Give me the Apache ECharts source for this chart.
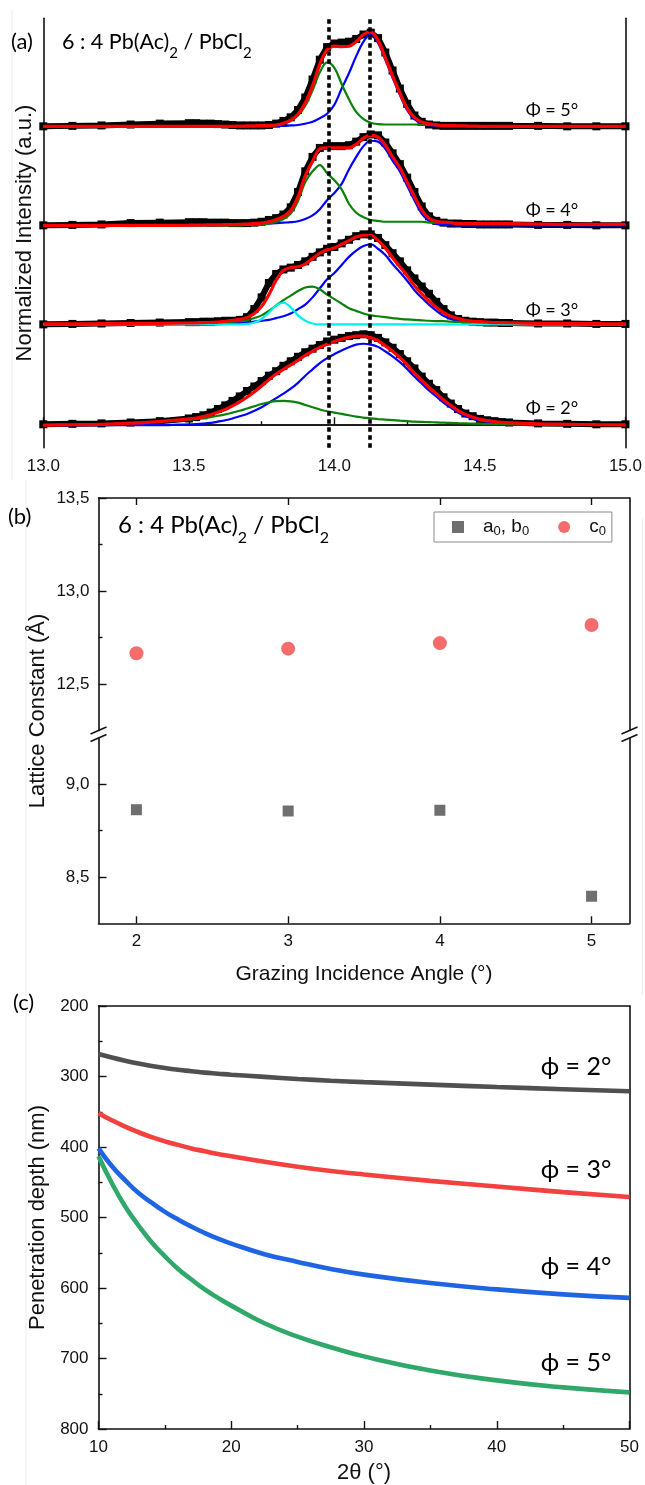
<!DOCTYPE html>
<html><head><meta charset="utf-8">
<script src="https://cdn.jsdelivr.net/npm/echarts@6/dist/echarts.min.js"></script>
<style>html,body{margin:0;padding:0;background:#fff}#c{width:645px;height:1485px}</style>
</head><body><div id="c"></div>
<script>
// ---------- Panel (a): XRD scans, 2theta grid ----------
const twoThetaA = [13.0,13.1,13.2,13.3,13.4,13.5,13.525,13.55,13.575,13.6,13.625,13.65,13.675,13.7,13.725,13.75,13.775,13.8,13.825,13.85,13.875,13.9,13.925,13.95,13.975,14.0,14.025,14.05,14.075,14.1,14.125,14.15,14.175,14.2,14.225,14.25,14.275,14.3,14.325,14.35,14.375,14.4,14.425,14.45,14.475,14.5,14.525,14.55,14.575,14.6,14.7,14.8,14.9,15.0];
const scanLabels = ['Φ = 2°','Φ = 3°','Φ = 4°','Φ = 5°'];
const scanOffsets = [0, 1.12, 2.22, 3.32];
const dottedLinesX = [13.98, 14.12];

const data2 = [0.01,0.015,0.02,0.03,0.045,0.075,0.09,0.11,0.14,0.18,0.22,0.27,0.32,0.38,0.43,0.49,0.55,0.6,0.66,0.71,0.76,0.81,0.85,0.89,0.93,0.95,0.97,0.99,1.0,1.01,1.0,0.97,0.92,0.86,0.79,0.71,0.63,0.54,0.46,0.39,0.31,0.24,0.18,0.13,0.1,0.07,0.055,0.045,0.035,0.03,0.02,0.015,0.01,0.01];
const fit2 = [0,0.005,0.01,0.022,0.04,0.07,0.08,0.095,0.115,0.145,0.175,0.215,0.26,0.31,0.37,0.435,0.505,0.568,0.62,0.67,0.72,0.775,0.82,0.865,0.9,0.93,0.955,0.975,0.99,0.99,0.97,0.938,0.882,0.821,0.75,0.67,0.58,0.5,0.42,0.351,0.28,0.22,0.162,0.12,0.09,0.065,0.05,0.04,0.032,0.027,0.015,0.01,0.006,0.003];
const green2 = [0,0.005,0.01,0.022,0.04,0.06,0.068,0.078,0.09,0.105,0.12,0.14,0.16,0.185,0.21,0.235,0.255,0.268,0.27,0.265,0.25,0.225,0.2,0.175,0.155,0.14,0.125,0.11,0.095,0.085,0.075,0.068,0.062,0.056,0.05,0.045,0.04,0.037,0.034,0.031,0.028,0.025,0.022,0.02,0.018,0.016,0.014,0.012,0.01,0.009,0.006,0.004,0.002,0];
const blue2 = [0,0,0,0,0,0.01,0.012,0.017,0.025,0.04,0.055,0.075,0.1,0.125,0.16,0.2,0.25,0.3,0.35,0.405,0.47,0.55,0.62,0.69,0.745,0.79,0.83,0.865,0.895,0.905,0.895,0.87,0.82,0.765,0.7,0.625,0.54,0.463,0.386,0.32,0.252,0.195,0.14,0.1,0.072,0.049,0.036,0.028,0.022,0.018,0.009,0.006,0.004,0.003];

const data3 = [0,0.005,0.01,0.015,0.02,0.025,0.025,0.03,0.03,0.035,0.04,0.04,0.05,0.08,0.17,0.3,0.46,0.56,0.61,0.63,0.66,0.7,0.75,0.8,0.84,0.86,0.9,0.94,0.98,1.0,1.0,0.96,0.88,0.79,0.7,0.6,0.51,0.42,0.34,0.25,0.17,0.1,0.06,0.04,0.03,0.025,0.02,0.02,0.015,0.015,0.01,0.01,0.005,0.005];
const fit3 = [0.005,0.005,0.008,0.01,0.012,0.015,0.017,0.02,0.022,0.025,0.035,0.045,0.055,0.075,0.12,0.2,0.33,0.49,0.6,0.63,0.64,0.67,0.73,0.79,0.83,0.85,0.89,0.93,0.97,0.99,0.99,0.93,0.85,0.74,0.64,0.54,0.43,0.34,0.26,0.19,0.13,0.09,0.065,0.045,0.035,0.03,0.025,0.02,0.02,0.018,0.012,0.01,0.008,0.005];
const cyan3 = [0,0,0,0,0,0,0,0,0,0,0,0,0,0.005,0.02,0.06,0.13,0.21,0.24,0.19,0.1,0.04,0.01,0,0,0,0,0,0,0,0,0,0,0,0,0,0,0,0,0,0,0,0,0,0,0,0,0,0,0,0,0,0,0];
const green3 = [0.005,0.005,0.005,0.005,0.005,0.01,0.012,0.015,0.017,0.02,0.025,0.03,0.035,0.045,0.07,0.1,0.15,0.21,0.27,0.32,0.37,0.41,0.42,0.39,0.33,0.28,0.23,0.18,0.15,0.12,0.1,0.09,0.08,0.07,0.06,0.055,0.05,0.045,0.04,0.037,0.035,0.03,0.028,0.025,0.023,0.02,0.02,0.018,0.017,0.015,0.01,0.008,0.006,0.005];
const blue3 = [0,0,0,0,0,0,0,0,0,0.005,0.01,0.015,0.02,0.025,0.03,0.04,0.05,0.07,0.09,0.12,0.17,0.22,0.3,0.4,0.5,0.57,0.66,0.75,0.82,0.87,0.89,0.84,0.77,0.67,0.58,0.485,0.38,0.295,0.22,0.153,0.095,0.06,0.037,0.02,0.012,0.01,0.005,0,0,0,0,0,0,0];

const data4 = [0,0.005,0.01,0.025,0.03,0.035,0.035,0.035,0.03,0.03,0.03,0.025,0.025,0.025,0.03,0.04,0.06,0.08,0.12,0.2,0.37,0.6,0.76,0.86,0.88,0.88,0.88,0.89,0.93,0.98,1.01,1.0,0.92,0.8,0.68,0.53,0.37,0.21,0.1,0.05,0.03,0.02,0.02,0.015,0.015,0.01,0.01,0.01,0.01,0.01,0.005,0.005,0,0];
const fit4 = [0,0,0,0,0,0.002,0.003,0.004,0.005,0.006,0.007,0.008,0.01,0.015,0.02,0.025,0.04,0.065,0.1,0.165,0.315,0.55,0.71,0.85,0.86,0.86,0.86,0.86,0.9,0.97,1.0,0.98,0.89,0.76,0.64,0.48,0.32,0.17,0.08,0.045,0.035,0.03,0.02,0.02,0.02,0.02,0.02,0.02,0.02,0.02,0.015,0.01,0.01,0.01];
const green4 = [0,0,0,0,0,0,0,0,0,0,0,0,0,0.005,0.007,0.01,0.02,0.04,0.07,0.13,0.27,0.48,0.6,0.67,0.58,0.5,0.4,0.24,0.14,0.09,0.06,0.05,0.04,0.04,0.04,0.04,0.04,0.04,0.03,0.03,0.03,0.03,0.02,0.02,0.02,0.02,0.02,0.02,0.02,0.02,0.015,0.01,0.01,0.01];
const blue4 = [0,0,0,0,0,0,0,0,0,0.005,0.005,0.005,0.008,0.01,0.01,0.015,0.02,0.025,0.03,0.035,0.045,0.07,0.11,0.18,0.28,0.36,0.46,0.62,0.76,0.88,0.94,0.93,0.85,0.72,0.6,0.44,0.28,0.13,0.05,0.015,0.005,0,0,0,0,0,0,0,0,0,0,0,0,0];

const data5 = [0,0.005,0.01,0.02,0.03,0.035,0.035,0.03,0.03,0.025,0.02,0.015,0.01,0.01,0.01,0.01,0.015,0.03,0.06,0.1,0.18,0.32,0.52,0.74,0.88,0.92,0.93,0.94,0.97,1.02,1.04,0.98,0.82,0.62,0.42,0.25,0.12,0.05,0.02,0.01,0.005,0.005,0.005,0.005,0.005,0.005,0.005,0.005,0.005,0.005,0.005,0,0,0];
const fit5 = [0,0,0,0,0,0,0,0,0,0,0,0,0.002,0.004,0.006,0.008,0.01,0.015,0.035,0.07,0.135,0.26,0.45,0.69,0.85,0.89,0.885,0.89,0.94,1.02,1.05,0.955,0.76,0.56,0.37,0.2,0.1,0.048,0.027,0.017,0.01,0.008,0.006,0.004,0.002,0,0,0,0,0,0,0,0,0];
const green5 = [0,0,0,0,0,0,0,0,0,0,0,0,0,0,0,0,0,0.01,0.03,0.06,0.12,0.23,0.4,0.6,0.71,0.65,0.47,0.3,0.16,0.08,0.04,0.025,0.02,0.02,0.02,0.02,0.02,0.018,0.015,0.012,0.01,0.008,0.006,0.004,0.002,0,0,0,0,0,0,0,0,0];
const blue5 = [0,0,0,0,0,0,0,0,0,0,0,0,0,0,0,0,0,0.003,0.005,0.01,0.015,0.03,0.05,0.09,0.14,0.24,0.42,0.59,0.78,0.94,1.03,0.93,0.74,0.54,0.35,0.18,0.08,0.03,0.012,0.005,0,0,0,0,0,0,0,0,0,0,0,0,0,0];

// ---------- Panel (b): lattice constants ----------
const angles = [2, 3, 4, 5];
const a0b0 = [8.863, 8.856, 8.86, 8.396];
const c0 = [12.665, 12.69, 12.72, 12.817];
const upperMajor = [12.5, 13.0, 13.5];
const upperMinor = [12.75, 13.25];
const lowerMajor = [8.5, 9.0];
const lowerMinor = [8.75];

// ---------- Panel (c): penetration depth ----------
const twoThetaC = [10, 11, 12, 13, 14, 15, 16, 17, 18, 19, 20, 22.5, 25, 27.5, 30, 35, 40, 45, 50];
const depth2 = [268, 273, 277.5, 281.5, 285, 288, 290.5, 292.5, 294.5, 296, 297.5, 300.5, 303.5, 306, 308, 311.5, 315, 318, 321];
const depth3 = [352, 362, 371, 379, 386, 392, 397, 402, 406, 410, 413, 421, 428, 434, 439, 448, 456, 464, 471];
const depth4 = [402, 427, 447, 465, 479, 492, 503, 513, 522, 530, 537, 552, 563, 573, 581, 593, 602, 609, 614];
const depth5 = [413, 451, 484, 511, 535, 555, 573, 588, 602, 614, 625, 650, 669, 684, 697, 717, 731, 741, 748];
const depthLabels = ['ϕ = 2°', 'ϕ = 3°', 'ϕ = 4°', 'ϕ = 5°'];

// ---------- build ----------
const chart = echarts.init(document.getElementById('c'), null, {renderer: 'canvas'});
const SANS = 'Liberation Sans, Arial, sans-serif';
const CAL = 'Lato, "Open Sans", sans-serif';
const tickFont = {fontFamily: SANS, fontSize: 17, color: '#111'};
const nameFont = {fontFamily: SANS, fontSize: 22, color: '#111'};
const axLine = {show: true, lineStyle: {color: '#111', width: 1.6}};
const tickIn = (len) => ({show: true, inside: true, length: len, lineStyle: {color: '#111', width: 1.4}});
const minorIn = {show: true, splitNumber: 2, length: 4, lineStyle: {color: '#111', width: 1.4}};
const off = {show: false};
const lineOnly = (gi, pos, min, max, extra) => Object.assign({gridIndex: gi, type: 'value', position: pos, min: min, max: max, axisLine: axLine, axisTick: off, axisLabel: off, splitLine: off}, extra || {});

const pairs = (xs, ys, o) => xs.map((x, i) => [x, ys[i] + (o || 0)]);

const series = [];
const scans = [
  {data: data2, fit: fit2, comps: [[blue2, '#0000ff'], [green2, '#0a820a']]},
  {data: data3, fit: fit3, comps: [[blue3, '#0000ff'], [green3, '#0a820a'], [cyan3, '#00f0f0']]},
  {data: data4, fit: fit4, comps: [[blue4, '#0000ff'], [green4, '#0a820a']]},
  {data: data5, fit: fit5, comps: [[blue5, '#0000ff'], [green5, '#0a820a']]}
];
scans.forEach((s, k) => {
  series.push({type: 'line', xAxisIndex: 0, yAxisIndex: 0, data: pairs(twoThetaA, s.data, scanOffsets[k]),
    symbol: 'rect', symbolSize: 8, showAllSymbol: true, itemStyle: {color: '#000'},
    lineStyle: {color: '#000', width: 6}, z: 2, silent: true});
});
scans.forEach((s, k) => {
  s.comps.forEach(c => {
    series.push({type: 'line', xAxisIndex: 0, yAxisIndex: 0, data: pairs(twoThetaA, c[0], scanOffsets[k]),
      symbol: 'none', smooth: 0.35, lineStyle: {color: c[1], width: 2.2}, z: 3, silent: true});
  });
  series.push({type: 'line', xAxisIndex: 0, yAxisIndex: 0, data: pairs(twoThetaA, s.fit, scanOffsets[k]),
    symbol: 'none', smooth: 0.35, lineStyle: {color: '#ff0000', width: 3.2}, z: 4, silent: true});
});
series.push({type: 'line', xAxisIndex: 0, yAxisIndex: 0, data: [], z: 6, silent: true,
  markLine: {silent: true, symbol: ['none', 'none'], label: {show: false}, animation: false,
    lineStyle: {color: '#000', width: 3.6, type: [4.5, 3.5]},
    data: dottedLinesX.map(v => ({xAxis: v}))}});

// panel (b)
series.push({type: 'scatter', name: 'a0, b0', xAxisIndex: 3, yAxisIndex: 5, data: pairs(angles, a0b0),
  symbol: 'rect', symbolSize: 11, itemStyle: {color: '#4b4b4b'}});
series.push({type: 'scatter', name: 'c0', xAxisIndex: 2, yAxisIndex: 2, data: pairs(angles, c0),
  symbol: 'circle', symbolSize: 14, itemStyle: {color: '#f24747'}});

// panel (c)
[[depth2, '#505050'], [depth3, '#f2413f'], [depth4, '#1f65e3'], [depth5, '#2fa86a']].forEach(d => {
  series.push({type: 'line', xAxisIndex: 4, yAxisIndex: 8, data: pairs(twoThetaC, d[0]),
    symbol: 'none', smooth: true, lineStyle: {color: d[1], width: 4.6}, silent: true});
});

const txt = (x, y, text, size, extra) => ({type: 'text', x: x, y: y, z: 100,
  style: Object.assign({text: text, fontSize: size, fontFamily: CAL, fill: '#000',
    textAlign: 'left', align: 'left', textVerticalAlign: 'middle', verticalAlign: 'middle'}, extra || {})});
const titleRich = (size) => ({lineHeight: size * 1.75, rich: {s: {fontSize: Math.round(size * 0.68), fontFamily: CAL, fill: '#000', verticalAlign: 'bottom', lineHeight: size * 0.45}}});
const brk = (x, y) => ({type: 'line', z: 100, shape: {x1: x - 8, y1: y + 3.5, x2: x + 8, y2: y - 3.5}, style: {stroke: '#111', lineWidth: 1.5}});
const faint = (x, y1, y2) => ({type: 'line', z: 1, shape: {x1: x, y1: y1, x2: x, y2: y2}, style: {stroke: '#ececec', lineWidth: 1}});

const graphic = [
  faint(12, 10, 480), faint(26, 480, 1485), faint(642.5, 518, 995),
  txt(11, 42, '(a)', 22),
  txt(62, 42, '6 : 4 Pb(Ac){s|2} / PbCl{s|2}', 21.5, titleRich(21.5)),
  txt(8, 517, '(b)', 22),
  txt(118, 525, '6 : 4 Pb(Ac){s|2} / PbCl{s|2}', 24, titleRich(24)),
  txt(13, 1003, '(c)', 22),
  {type: 'text', x: 38, y: 711, rotation: Math.PI / 2, z: 100,
    style: {text: 'Lattice Constant (Å)', fontSize: 22, fontFamily: SANS, fill: '#111',
      textAlign: 'center', align: 'center', textVerticalAlign: 'middle', verticalAlign: 'middle'}},
  brk(98.5, 730.5), brk(98.5, 738), brk(629.5, 730.5), brk(629.5, 738)
];
const phiY = [408, 310, 210, 110];
scanLabels.forEach((t, i) => graphic.push(txt(552, phiY[i], t, 18, {textAlign: 'center', align: 'center'})));
const depY = [1067, 1170, 1267, 1363];
depthLabels.forEach((t, i) => graphic.push(txt(576, depY[i], t, 25, {textAlign: 'center', align: 'center'})));

const option = {
  animation: false,
  backgroundColor: '#fff',
  textStyle: {fontFamily: SANS},
  grid: [
    {left: 43.3, top: 18.3, width: 585, height: 429.4},
    {left: 98.5, top: 498, width: 531, height: 232.5},
    {left: 98.5, top: 738, width: 531, height: 185.3},
    {left: 98.5, top: 1006, width: 531, height: 424.7}
  ],
  legend: {
    data: ['a0, b0', 'c0'], left: 434, top: 512, orient: 'horizontal',
    itemWidth: 12, itemHeight: 12, itemGap: 29, padding: [4, 6, 4, 18],
    borderColor: '#8a8a8a', borderWidth: 1, selectedMode: false,
    formatter: n => n === 'c0' ? 'c{s|0}' : 'a{s|0}, b{s|0}',
    textStyle: {fontFamily: SANS, fontSize: 19, color: '#111', padding: [0, 0, 0, 14], lineHeight: 22,
      rich: {s: {fontFamily: SANS, fontSize: 13, color: '#111', verticalAlign: 'bottom', lineHeight: 8}}}
  },
  xAxis: [
    {gridIndex: 0, type: 'value', position: 'bottom', min: 13, max: 15, interval: 0.5, axisLine: axLine,
      axisTick: tickIn(8), minorTick: minorIn, splitLine: off, minorSplitLine: off,
      axisLabel: Object.assign({}, tickFont, {margin: 10, formatter: v => v.toFixed(1)})},
    lineOnly(0, 'top', 13, 15),
    {gridIndex: 1, type: 'value', position: 'top', min: 1.75, max: 5.25, axisLine: axLine,
      axisTick: Object.assign(tickIn(7), {customValues: angles}), axisLabel: off, splitLine: off},
    {gridIndex: 2, type: 'value', position: 'bottom', min: 1.75, max: 5.25, axisLine: axLine,
      axisTick: Object.assign(tickIn(7), {customValues: angles}), splitLine: off,
      axisLabel: Object.assign({}, tickFont, {margin: 10, customValues: angles}),
      name: 'Grazing Incidence Angle (°)', nameLocation: 'middle', nameGap: 40, nameTextStyle: Object.assign({}, nameFont, {fontSize: 21})},
    {gridIndex: 3, type: 'value', position: 'bottom', min: 10, max: 50, interval: 10, axisLine: axLine,
      axisTick: tickIn(8), minorTick: minorIn, splitLine: off, minorSplitLine: off,
      axisLabel: Object.assign({}, tickFont, {margin: 10}),
      name: '2θ (°)', nameLocation: 'middle', nameGap: 33, nameTextStyle: nameFont},
    lineOnly(3, 'top', 10, 50)
  ],
  yAxis: [
    lineOnly(0, 'left', -0.25, 4.52, {name: 'Normalized Intensity (a.u.)', nameLocation: 'middle', nameGap: 7, nameTextStyle: nameFont}),
    lineOnly(0, 'right', -0.25, 4.52),
    {gridIndex: 1, type: 'value', position: 'left', min: 12.25, max: 13.5, axisLine: axLine,
      axisTick: Object.assign(tickIn(8), {customValues: upperMajor}), splitLine: off,
      axisLabel: Object.assign({}, tickFont, {margin: 9, customValues: upperMajor, formatter: v => v.toFixed(1).replace('.', ',')})},
    {gridIndex: 1, type: 'value', position: 'left', min: 12.25, max: 13.5, axisLine: off,
      axisTick: Object.assign(tickIn(4), {customValues: upperMinor}), axisLabel: off, splitLine: off},
    lineOnly(1, 'right', 12.25, 13.5),
    {gridIndex: 2, type: 'value', position: 'left', min: 8.25, max: 9.25, axisLine: axLine,
      axisTick: Object.assign(tickIn(8), {customValues: lowerMajor}), splitLine: off,
      axisLabel: Object.assign({}, tickFont, {margin: 9, customValues: lowerMajor, formatter: v => v.toFixed(1).replace('.', ',')})},
    {gridIndex: 2, type: 'value', position: 'left', min: 8.25, max: 9.25, axisLine: off,
      axisTick: Object.assign(tickIn(4), {customValues: lowerMinor}), axisLabel: off, splitLine: off},
    lineOnly(2, 'right', 8.25, 9.25),
    {gridIndex: 3, type: 'value', position: 'left', inverse: true, min: 200, max: 800, interval: 100, axisLine: axLine,
      axisTick: tickIn(8), minorTick: minorIn, splitLine: off, minorSplitLine: off,
      axisLabel: Object.assign({}, tickFont, {margin: 10}),
      name: 'Penetration depth (nm)', nameLocation: 'middle', nameGap: 48, nameTextStyle: nameFont},
    lineOnly(3, 'right', 200, 800, {inverse: true})
  ],
  series: series,
  graphic: graphic
};
chart.setOption(option);
</script>
</body></html>
